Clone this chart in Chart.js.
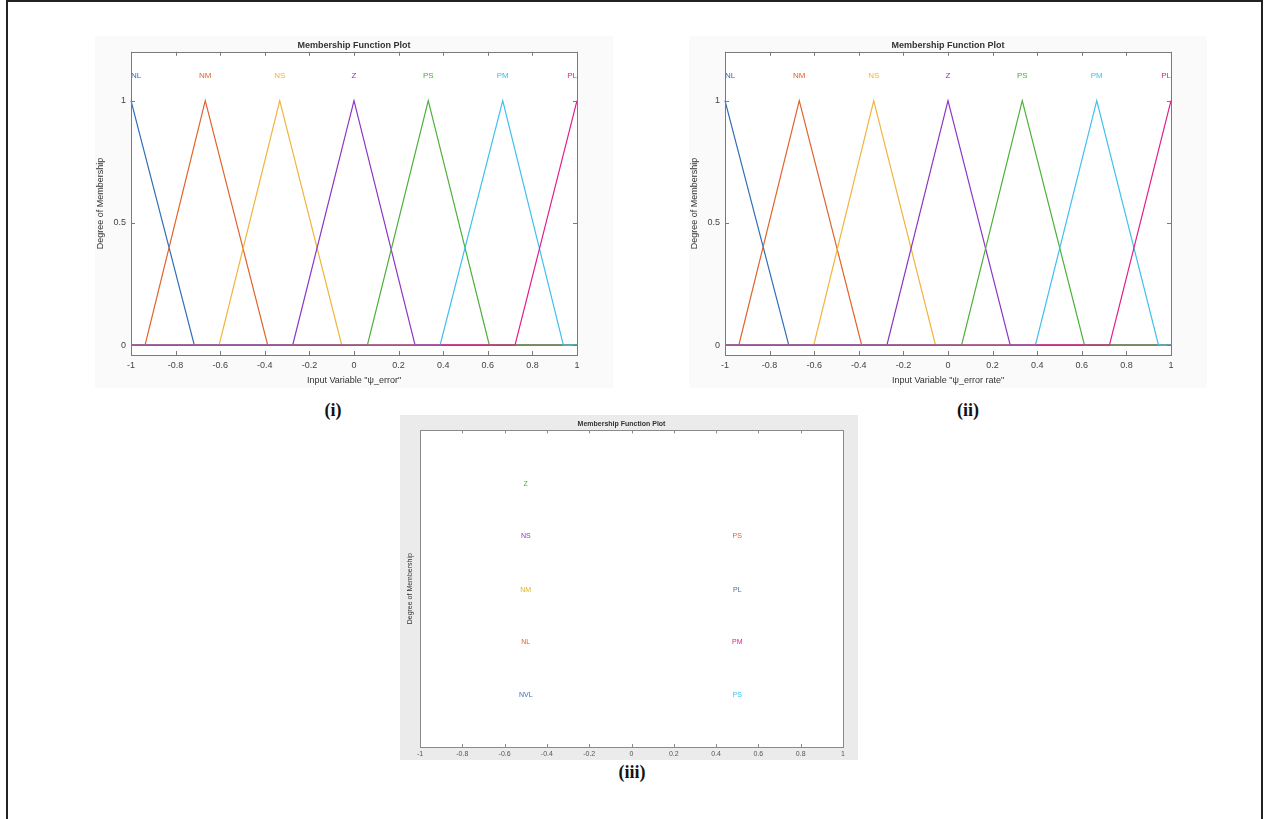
<!DOCTYPE html>
<html>
<head>
<meta charset="utf-8">
<script src="https://cdn.jsdelivr.net/npm/chart.js@4.4.1/dist/chart.umd.min.js"></script>
<style>
  html, body { margin:0; padding:0; background:#fff; }
  body { width:1265px; height:819px; position:relative; overflow:hidden; }
  #frame { position:absolute; left:6px; top:0; width:1253px; height:830px;
           border-left:2px solid #222; border-top:2px solid #222; border-right:2px solid #222; }
  canvas { position:absolute; }
  .cap { position:absolute; font-family:"Liberation Serif","DejaVu Serif",serif; font-weight:bold;
         font-size:18px; color:#111; transform:translateX(-50%); }
</style>
</head>
<body>
<div id="frame"></div>
<canvas id="c1" width="518" height="352" style="left:95px;top:36px"></canvas>
<canvas id="c2" width="518" height="352" style="left:689px;top:36px"></canvas>
<canvas id="c3" width="458" height="345" style="left:400px;top:415px"></canvas>
<div class="cap" style="left:333px;top:400px">(i)</div>
<div class="cap" style="left:968px;top:400px">(ii)</div>
<div class="cap" style="left:632px;top:762px">(iii)</div>
<script>
// ---------- data ----------
const mfNames  = ['NL','NM','NS','Z','PS','PM','PL'];
const mfColors = ['#2f6fb8','#e2622a','#f0b43a','#8a35c8','#4caf3a','#3ec0ec','#e0208a'];
const mfPeaks  = [-1, -0.667, -0.333, 0, 0.333, 0.667, 1];
// feet (where each triangle reaches 0) (i)
const errLeftFeet  = [null, -0.937, -0.605, -0.275, 0.060, 0.386, 0.722];
const errRightFeet = [-0.716, -0.387, -0.055, 0.274, 0.607, 0.939, null];
// feet (ii)
const rateLeftFeet  = [null, -0.938, -0.602, -0.274, 0.061, 0.392, 0.724];
const rateRightFeet = [-0.714, -0.387, -0.056, 0.279, 0.612, 0.944, null];
const labelLevel = 1.1;
const xTicks = [-1, -0.8, -0.6, -0.4, -0.2, 0, 0.2, 0.4, 0.6, 0.8, 1];
const yTicks = [0, 0.5, 1];

// chart (iii) labels
const outLeftNames  = ['Z','NS','NM','NL','NVL'];
const outLeftColors = ['#4caf3a','#8a35c8','#e0b020','#e2622a','#3a6fb0'];
const outLeftY      = [0.83, 0.665, 0.497, 0.332, 0.165];
const outLeftX      = -0.5;
const outRightNames  = ['PS','PL','PM','PS'];
const outRightColors = ['#e2622a','#4a6f9a','#e0208a','#3ec0ec'];
const outRightY      = [0.665, 0.497, 0.332, 0.165];
const outRightX      = 0.5;

Chart.defaults.font.family = '"Liberation Sans", Arial, sans-serif';

function fmt(v){ return String(Math.round(v*10)/10); }

function boxPlugin(cfg){
  return {
    id: 'box',
    beforeDraw(chart){
      const c = chart.ctx, a = chart.chartArea;
      c.save();
      c.fillStyle = cfg.bg; c.fillRect(0,0,chart.width,chart.height);
      c.fillStyle = '#ffffff'; c.fillRect(a.left,a.top,a.right-a.left,a.bottom-a.top);
      c.restore();
    },
    afterDraw(chart){
      const c = chart.ctx, a = chart.chartArea;
      const xs = chart.scales.x, ys = chart.scales.y;
      c.save();
      (cfg.labels||[]).forEach(l => {
        c.font = cfg.labelFont;
        c.fillStyle = l.color;
        c.textAlign = l.align || 'center';
        c.textBaseline = 'middle';
        c.fillText(l.text, xs.getPixelForValue(l.x), ys.getPixelForValue(l.y));
      });
      c.strokeStyle = cfg.boxColor; c.lineWidth = 1;
      c.strokeRect(Math.round(a.left)+0.5, Math.round(a.top)+0.5,
                   Math.round(a.right-a.left), Math.round(a.bottom-a.top));
      const L = cfg.tickLen;
      c.beginPath();
      xs.ticks.forEach(t => {
        const px = Math.round(xs.getPixelForValue(t.value))+0.5;
        c.moveTo(px, a.bottom); c.lineTo(px, a.bottom-L);
        c.moveTo(px, a.top); c.lineTo(px, a.top+L);
      });
      if (cfg.yTickMarks) ys.ticks.forEach(t => {
        const py = Math.round(ys.getPixelForValue(t.value))+0.5;
        c.moveTo(a.left, py); c.lineTo(a.left+L, py);
        c.moveTo(a.right, py); c.lineTo(a.right-L, py);
      });
      c.stroke();
      c.restore();
    }
  };
}

function mfDatasets(leftFeet, rightFeet){
  return mfNames.map((n,i) => {
    const pts = [];
    if (leftFeet[i] === null) { pts.push({x:mfPeaks[i], y:1}); }
    else { pts.push({x:-1,y:0}); pts.push({x:leftFeet[i],y:0}); pts.push({x:mfPeaks[i],y:1}); }
    if (rightFeet[i] !== null) { pts.push({x:rightFeet[i],y:0}); pts.push({x:1,y:0}); }
    return { label:n, data:pts, borderColor:mfColors[i], borderWidth:1.2, pointRadius:0,
             tension:0, fill:false, order: mfNames.length-1-i, clip:false };
  });
}

function mfLabels(){
  return mfNames.map((n,i) => ({ text:n, x:mfPeaks[i], y:labelLevel, color:mfColors[i],
    align: i===0 ? 'left' : (i===mfNames.length-1 ? 'right' : 'center') }));
}

function makeMF(id, leftFeet, rightFeet, xTitle){
  new Chart(document.getElementById(id), {
    type: 'line',
    data: { datasets: mfDatasets(leftFeet, rightFeet) },
    options: {
      responsive:false, animation:false, events:[],
      layout:{ padding:{left:0,right:0,top:0,bottom:0} },
      plugins:{
        legend:{display:false}, tooltip:{enabled:false},
        title:{ display:true, text:'Membership Function Plot', color:'#333',
                font:{size:9, weight:'bold'}, padding:{top:4,bottom:1} }
      },
      scales:{
        x:{ type:'linear', min:-1, max:1,
            afterBuildTicks: s => { s.ticks = xTicks.map(v => ({value:v})); },
            ticks:{ callback: v => fmt(v), font:{size:9}, color:'#444', padding:5,
                    maxRotation:0, autoSkip:false },
            grid:{display:false, drawTicks:false}, border:{display:false},
            title:{ display:true, text:xTitle, font:{size:9}, color:'#333', padding:{top:0,bottom:2} },
            afterFit: s => { s.height = 33; } },
        y:{ type:'linear', min:-0.04, max:1.2,
            afterBuildTicks: s => { s.ticks = yTicks.map(v => ({value:v})); },
            ticks:{ callback: v => fmt(v), font:{size:9}, color:'#444', padding:5 },
            grid:{display:false, drawTicks:false}, border:{display:false},
            title:{ display:true, text:'Degree of Membership', font:{size:9}, color:'#333', padding:{top:0,bottom:0} },
            afterFit: s => { s.width = 36; } },
        y2:{ type:'linear', position:'right', min:-0.04, max:1.2,
             ticks:{display:false}, grid:{display:false, drawTicks:false}, border:{display:false},
             afterFit: s => { s.width = 36; } }
      }
    },
    plugins:[ boxPlugin({ bg:'#fafafa', boxColor:'#7a7a7a', tickLen:4, yTickMarks:true,
                          labels: mfLabels(), labelFont:'8px "Liberation Sans", Arial' }) ]
  });
}

makeMF('c1', errLeftFeet, errRightFeet, 'Input Variable "\u03C8_error"');
makeMF('c2', rateLeftFeet, rateRightFeet, 'Input Variable "\u03C8_error rate"');

// chart (iii)
const outLabels = outLeftNames.map((n,i) => ({text:n, x:outLeftX, y:outLeftY[i], color:outLeftColors[i]}))
  .concat(outRightNames.map((n,i) => ({text:n, x:outRightX, y:outRightY[i], color:outRightColors[i]})));

new Chart(document.getElementById('c3'), {
  type:'line',
  data:{ datasets:[] },
  options:{
    responsive:false, animation:false, events:[],
    layout:{ padding:{left:0,right:15,top:0,bottom:0} },
    plugins:{
      legend:{display:false}, tooltip:{enabled:false},
      title:{ display:true, text:'Membership Function Plot', color:'#333',
              font:{size:7, weight:'bold'}, padding:{top:5,bottom:2} }
    },
    scales:{
      x:{ type:'linear', min:-1, max:1,
          afterBuildTicks: s => { s.ticks = xTicks.map(v => ({value:v})); },
          ticks:{ callback: v => fmt(v), font:{size:7}, color:'#555', padding:3, maxRotation:0, autoSkip:false },
          grid:{display:false, drawTicks:false}, border:{display:false},
          afterFit: s => { s.height = 13; } },
      y:{ type:'linear', min:0, max:1,
          ticks:{display:false}, grid:{display:false, drawTicks:false}, border:{display:false},
          title:{ display:true, text:'Degree of Membership', font:{size:7}, color:'#333', padding:{top:6,bottom:0} },
          afterFit: s => { s.width = 20; } }
    }
  },
  plugins:[ boxPlugin({ bg:'#ebebeb', boxColor:'#8a8a8a', tickLen:3, yTickMarks:false,
                        labels: outLabels, labelFont:'7px "Liberation Sans", Arial' }) ]
});
</script>
</body>
</html>
